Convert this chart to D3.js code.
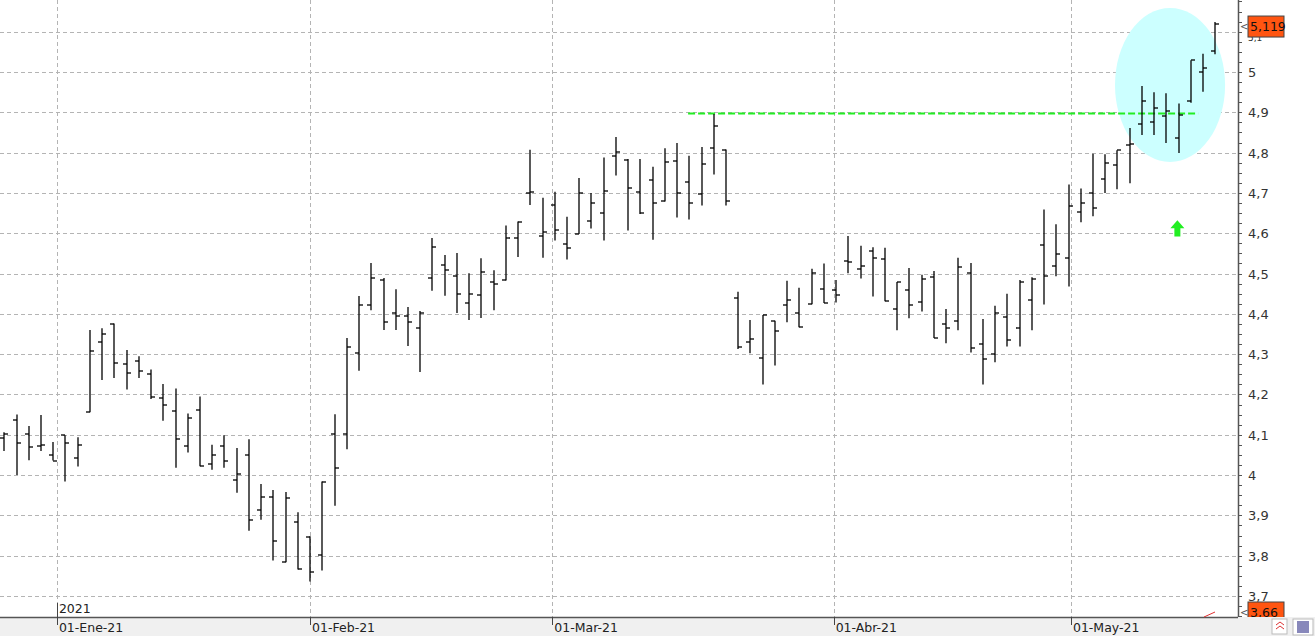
<!DOCTYPE html>
<html><head><meta charset="utf-8">
<script src="https://cdn.jsdelivr.net/npm/d3@7"></script>
<style>body{margin:0;background:#fff;overflow:hidden}svg{display:block;font-family:"DejaVu Sans",sans-serif}</style>
</head><body><svg id="c" width="1315" height="636"></svg>
<script>
const opens=[4.093,4.136,4.103,4.071,4.051,4.099,4.042,4.156,4.331,4.376,4.275,4.284,4.251,4.190,4.159,4.071,4.161,4.027,4.071,3.989,4.051,3.913,3.945,3.784,3.883,3.846,3.801,4.103,4.101,4.302,4.421,4.483,4.401,4.394,4.366,4.488,4.520,4.495,4.426,4.446,4.480,4.483,4.589,4.701,4.594,4.669,4.573,4.598,4.630,4.650,4.791,4.782,4.702,4.731,4.679,4.779,4.727,4.697,4.811,4.806,4.439,4.330,4.291,4.383,4.422,4.402,4.424,4.461,4.459,4.531,4.512,4.555,4.536,4.412,4.459,4.429,4.491,4.374,4.382,4.501,4.325,4.300,4.392,4.365,4.434,4.570,4.519,4.539,4.653,4.700,4.735,4.770,4.820,4.870,4.875,4.890,4.836,4.929,4.999,5.051];
const highs=[4.106,4.150,4.122,4.149,4.082,4.099,4.094,4.360,4.364,4.376,4.310,4.295,4.262,4.226,4.215,4.153,4.195,4.075,4.099,4.067,4.089,3.978,3.963,3.958,3.908,3.848,3.984,4.151,4.340,4.444,4.526,4.489,4.461,4.417,4.407,4.588,4.546,4.551,4.501,4.538,4.508,4.619,4.629,4.807,4.688,4.703,4.641,4.737,4.700,4.788,4.839,4.784,4.784,4.765,4.811,4.824,4.792,4.814,4.896,4.808,4.455,4.385,4.397,4.383,4.482,4.465,4.512,4.525,4.484,4.593,4.569,4.565,4.564,4.479,4.514,4.497,4.506,4.412,4.539,4.526,4.387,4.420,4.450,4.484,4.491,4.659,4.622,4.721,4.711,4.797,4.796,4.806,4.861,4.965,4.950,4.947,4.922,5.029,5.045,5.124];
const lows=[4.060,4.000,4.037,4.060,4.036,3.984,4.021,4.156,4.236,4.241,4.212,4.241,4.189,4.135,4.018,4.056,4.022,4.013,4.018,3.956,3.862,3.889,3.788,3.784,3.766,3.736,3.763,3.924,4.064,4.259,4.409,4.360,4.360,4.320,4.256,4.457,4.445,4.402,4.385,4.390,4.409,4.483,4.541,4.670,4.539,4.582,4.535,4.598,4.612,4.582,4.743,4.607,4.648,4.584,4.679,4.639,4.634,4.669,4.746,4.669,4.313,4.302,4.225,4.272,4.379,4.367,4.424,4.427,4.428,4.501,4.488,4.443,4.431,4.359,4.389,4.406,4.340,4.327,4.359,4.304,4.225,4.280,4.319,4.319,4.359,4.423,4.493,4.468,4.627,4.642,4.700,4.709,4.724,4.844,4.844,4.824,4.799,4.924,4.951,5.044];
const closes=[4.102,4.079,4.069,4.074,4.036,4.079,4.074,4.309,4.351,4.277,4.253,4.257,4.194,4.175,4.089,4.141,4.022,4.051,4.036,4.002,3.888,3.945,3.836,3.942,3.766,3.759,3.984,4.018,4.317,4.421,4.488,4.379,4.394,4.380,4.401,4.567,4.508,4.448,4.448,4.505,4.473,4.589,4.629,4.703,4.602,4.609,4.563,4.699,4.674,4.704,4.801,4.712,4.650,4.674,4.776,4.699,4.674,4.771,4.866,4.679,4.318,4.338,4.397,4.357,4.434,4.367,4.501,4.427,4.446,4.528,4.518,4.538,4.431,4.479,4.422,4.487,4.340,4.365,4.516,4.315,4.288,4.402,4.335,4.479,4.486,4.493,4.548,4.668,4.676,4.663,4.773,4.806,4.821,4.928,4.910,4.903,4.893,5.029,5.009,5.120];
const monthLabels=["01-Ene-21","01-Feb-21","01-Mar-21","01-Abr-21","01-May-21"];
const monthIndex=[4.3,25,44.8,67.8,87.2];
const yTicks=[3.7,3.8,3.9,4.0,4.1,4.2,4.3,4.4,4.5,4.6,4.7,4.8,4.9,5.0,5.1];
const lastPrice=5.119, minPrice=3.66, resistance=4.897;

const svg=d3.select("#c");
const x=d3.scaleLinear().domain([0,99]).range([4.3,1215.3]);
const y=d3.scaleLinear().domain([3.7,5]).range([596,72]);
const fmt=v=>String(+v.toFixed(3)).replace(".",",");
const R=1238, B=617;

svg.append("g").selectAll("line").data(yTicks).join("line")
 .attr("x1",0).attr("x2",R).attr("y1",d=>Math.round(y(d))+.5).attr("y2",d=>Math.round(y(d))+.5)
 .attr("stroke","#b4b4b4").attr("stroke-dasharray","4,3");
svg.append("g").selectAll("line").data(monthIndex).join("line")
 .attr("x1",d=>Math.round(x(d))+.5).attr("x2",d=>Math.round(x(d))+.5).attr("y1",0).attr("y2",B)
 .attr("stroke","#b4b4b4").attr("stroke-dasharray","4,3");

svg.append("ellipse").attr("cx",x(95.3)).attr("cy",y(4.968)).attr("rx",x(4.5)-x(0)).attr("ry",y(4.8)-y(4.991))
 .attr("fill","#ccffff");

svg.append("line").attr("x1",x(55.9)).attr("x2",x(97.6)).attr("y1",y(resistance)).attr("y2",y(resistance))
 .attr("stroke","#22ee22").attr("stroke-width",2.2).attr("stroke-dasharray","7,3");

const ax=x(95.9), at=y(4.632), ab=y(4.592);
svg.append("path").attr("d",`M${ax},${at} L${ax+7},${at+8} L${ax+3},${at+8} L${ax+3},${ab} L${ax-3},${ab} L${ax-3},${at+8} L${ax-7},${at+8} Z`).attr("fill","#22ee22");

const idx=d3.range(opens.length);
const g=svg.append("g").attr("stroke","#000").attr("stroke-width",1.3);
g.selectAll(".hl").data(idx).join("line").attr("x1",i=>Math.round(x(i))).attr("x2",i=>Math.round(x(i)))
 .attr("y1",i=>y(highs[i])).attr("y2",i=>y(lows[i]));
g.selectAll(".o").data(idx).join("line").attr("x1",i=>Math.round(x(i))-4).attr("x2",i=>Math.round(x(i)))
 .attr("y1",i=>Math.round(y(opens[i]))).attr("y2",i=>Math.round(y(opens[i])));
g.selectAll(".c").data(idx).join("line").attr("x1",i=>Math.round(x(i))).attr("x2",i=>Math.round(x(i))+4)
 .attr("y1",i=>Math.round(y(closes[i]))).attr("y2",i=>Math.round(y(closes[i])));

svg.append("rect").attr("x",R+1).attr("y",0).attr("width",1315-R).attr("height",B).attr("fill","#fff");
svg.append("line").attr("x1",R+.5).attr("x2",R+.5).attr("y1",0).attr("y2",B).attr("stroke","#555").attr("stroke-width",1.5);
const minor=d3.range(3.65,5.2,0.025);
svg.append("g").selectAll("line").data(minor).join("line").attr("x1",R).attr("x2",R+4)
 .attr("y1",d=>Math.round(y(d))+.5).attr("y2",d=>Math.round(y(d))+.5).attr("stroke","#555");
svg.append("g").selectAll("text").data(yTicks.filter(d=>d<5.05)).join("text").attr("x",R+10).attr("y",d=>y(d)+5)
 .attr("font-size",13).attr("fill","#333").text(fmt);
// 5,1 label mostly hidden behind the last-price box, as in the reference
svg.append("text").attr("x",R+10).attr("y",y(5.1)+9).attr("font-size",9).attr("fill","#333").text(fmt(5.1));

function box(yc,label){
 const t=svg.append("g");
 t.append("text").attr("x",R+2).attr("y",yc+4).attr("font-size",10).attr("fill","#555").text("<");
 t.append("rect").attr("x",R+10).attr("y",yc-10).attr("width",36).attr("height",21).attr("fill","#ff5511").attr("stroke","#444");
 t.append("text").attr("x",R+12).attr("y",yc+5).attr("font-size",12.5).attr("fill","#111").text(label);
}
box(y(lastPrice)+2,fmt(lastPrice));
box(612,fmt(minPrice));

svg.append("rect").attr("x",0).attr("y",B).attr("width",1315).attr("height",636-B).attr("fill","#f0f0f0");
svg.append("line").attr("x1",0).attr("x2",R).attr("y1",B+.5).attr("y2",B+.5).attr("stroke","#555").attr("stroke-width",1.3);
svg.append("g").selectAll("line").data(monthIndex).join("line").attr("x1",d=>Math.round(x(d))+.5).attr("x2",d=>Math.round(x(d))+.5)
 .attr("y1",B).attr("y2",B+8).attr("stroke","#444");
svg.append("g").selectAll("text").data(monthIndex).join("text").attr("x",d=>x(d)+2).attr("y",632)
 .attr("font-size",12.5).attr("fill","#222").text((d,i)=>monthLabels[i]);
svg.append("line").attr("x1",Math.round(x(4.3))+.5).attr("x2",Math.round(x(4.3))+.5).attr("y1",603).attr("y2",B).attr("stroke","#444");
svg.append("text").attr("x",x(4.3)+2).attr("y",613).attr("font-size",12.5).attr("fill","#222").text("2021");
svg.append("line").attr("x1",1204).attr("x2",1215).attr("y1",617).attr("y2",612).attr("stroke","#e03030");
svg.append("rect").attr("x",1272).attr("y",619).attr("width",15).attr("height",15).attr("fill","#fff").attr("stroke","#bbb");
svg.append("path").attr("d","M1276,625 l4,-3 l4,3 M1276,629 l4,-3 l4,3").attr("stroke","#d33").attr("fill","none");
svg.append("rect").attr("x",1293).attr("y",619).attr("width",20).attr("height",16).attr("fill","#fff").attr("stroke","#bbb");
svg.append("rect").attr("x",1297).attr("y",621).attr("width",12).attr("height",12).attr("fill","#8888bb");
</script></body></html>
